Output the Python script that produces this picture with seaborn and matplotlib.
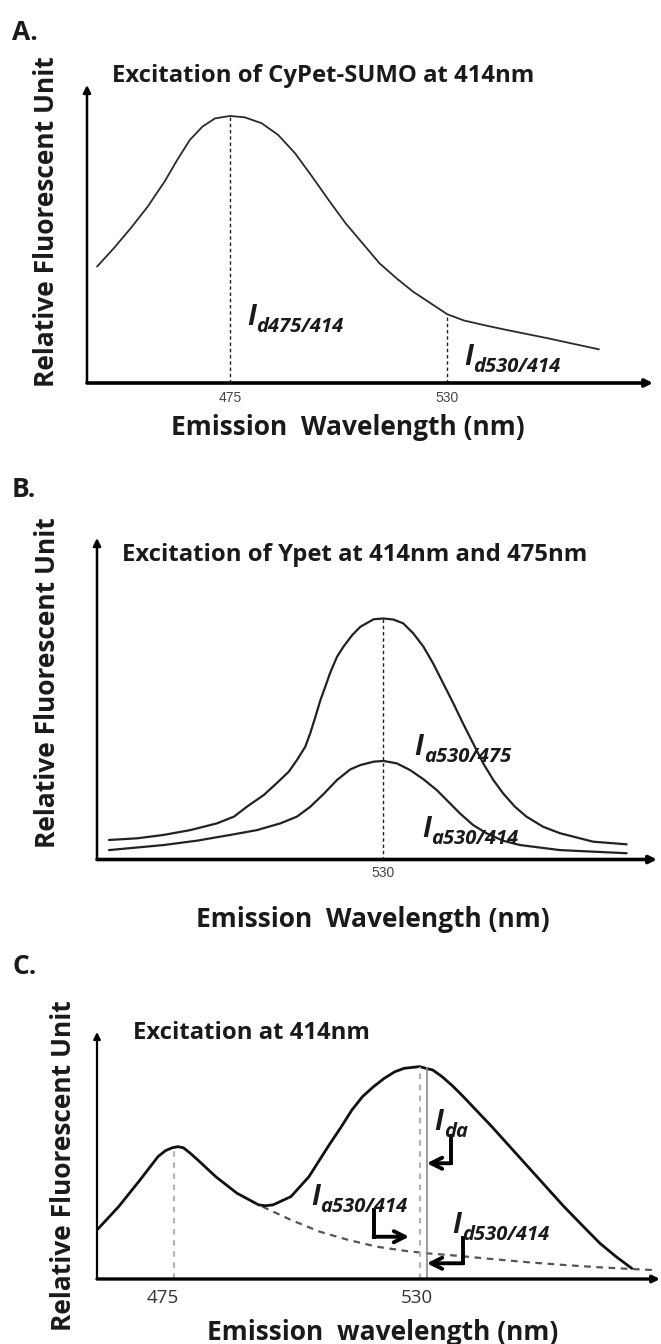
import numpy as np
import matplotlib
matplotlib.use("Agg")
import matplotlib.pyplot as plt
import seaborn as sns

# ---------------- data ----------------
# Panel A: CyPet-SUMO emission, excitation 414 nm
a_nm = [441.3, 445.5, 449.8, 454.1, 458.4, 461.6, 464.8, 468.0, 471.2, 475.0,
        478.7, 483.0, 487.2, 491.5, 495.8, 500.0, 504.3, 508.6, 512.9, 517.2,
        521.4, 525.7, 530.0, 534.3, 539.6, 545.0, 555.7, 568.5]
a_rfu = [0.436, 0.504, 0.579, 0.660, 0.754, 0.835, 0.910, 0.960, 0.991, 1.000,
         0.995, 0.973, 0.929, 0.860, 0.773, 0.685, 0.598, 0.523, 0.448, 0.392,
         0.342, 0.300, 0.258, 0.234, 0.216, 0.199, 0.167, 0.126]
a_ticks = [475, 530]

# Panel B: Ypet emission, excitation at 475 nm (upper) and 414 nm (lower)
b_nm_475 = [470.3, 476.5, 482.2, 488.0, 493.8, 497.5, 500.3, 504.0, 506.8, 509.4,
            511.2, 513.0, 514.1, 515.2, 516.3, 517.5, 518.4, 519.9, 521.3, 523.2,
            525.0, 527.9, 530.0, 532.1, 534.3, 536.5, 538.7, 540.8, 543.0, 545.2,
            547.3, 549.5, 551.7, 553.9, 556.0, 558.6, 561.1, 564.7, 568.4, 575.6,
            582.9]
b_rfu_475 = [0.081, 0.088, 0.102, 0.122, 0.150, 0.178, 0.219, 0.268, 0.317, 0.364,
             0.413, 0.468, 0.525, 0.592, 0.662, 0.725, 0.774, 0.841, 0.883, 0.931,
             0.966, 0.997, 1.000, 0.996, 0.980, 0.938, 0.883, 0.814, 0.731, 0.648,
             0.565, 0.482, 0.399, 0.330, 0.275, 0.219, 0.178, 0.136, 0.109, 0.074,
             0.063]
b_nm_414 = [470.3, 482.2, 489.4, 496.7, 502.5, 507.6, 511.2, 514.1, 517.0, 519.9,
            522.8, 525.0, 527.9, 530.0, 532.9, 535.8, 538.7, 541.6, 544.1, 546.6,
            549.5, 552.4, 556.0, 559.7, 568.4, 582.9]
b_rfu_414 = [0.039, 0.060, 0.078, 0.102, 0.122, 0.150, 0.178, 0.219, 0.272, 0.330,
             0.374, 0.392, 0.406, 0.409, 0.399, 0.371, 0.333, 0.288, 0.240, 0.192,
             0.143, 0.109, 0.078, 0.060, 0.039, 0.026]
b_ticks = [530]

# Panel C: FRET sample, excitation 414 nm
c_nm = [460.7, 465.4, 470.0, 473.9, 475.5, 477.0, 478.2, 479.4, 480.9, 482.5,
        486.4, 491.0, 495.7, 497.2, 498.8, 502.7, 506.6, 508.9, 511.2, 513.6,
        515.9, 518.2, 520.6, 522.9, 525.2, 527.2, 530.5, 533.4, 535.4, 537.7,
        540.0, 543.1, 546.2, 550.1, 554.0, 557.9, 561.8, 565.7, 569.6, 573.1,
        576.5]
c_rfu = [0.231, 0.341, 0.466, 0.576, 0.604, 0.618, 0.623, 0.618, 0.592, 0.561,
         0.482, 0.404, 0.349, 0.345, 0.349, 0.388, 0.482, 0.561, 0.639, 0.717,
         0.796, 0.859, 0.906, 0.945, 0.976, 0.992, 1.000, 0.984, 0.953, 0.909,
         0.859, 0.788, 0.717, 0.623, 0.529, 0.435, 0.341, 0.254, 0.168, 0.105,
         0.050]
# donor contribution (dashed)
c_donor_nm = [496.5, 502.7, 508.9, 515.1, 521.3, 527.6, 532.2, 538.4, 546.2,
              554.0, 561.8, 569.6, 576.5, 581.2]
c_donor_rfu = [0.341, 0.278, 0.223, 0.184, 0.152, 0.132, 0.121, 0.110, 0.094,
               0.079, 0.066, 0.055, 0.047, 0.042]
c_ticks = [475, 530]
c_marker_left_nm = 477.3
c_marker_dashed_nm = 530.6
c_marker_solid_nm = 532.1

# ---------------- style ----------------
sns.set_theme(style="white")
plt.rcParams["font.family"] = ["Open Sans", "DejaVu Sans"]

W, H = 661, 1344
fig = plt.figure(figsize=(W / 100, H / 100), dpi=100)
fig.patch.set_facecolor("white")


def px_rect(left, right, top, bottom):
    return [left / W, 1 - bottom / H, (right - left) / W, (bottom - top) / H]


axA = fig.add_axes(px_rect(87, 653, 85, 383))
axB = fig.add_axes(px_rect(97, 657, 538, 859.5))
axC = fig.add_axes(px_rect(97, 660, 1032, 1279))


def frame(ax, xlw, ylw, ms):
    for s in ax.spines.values():
        s.set_visible(False)
    ax.set_facecolor("none")
    ax.grid(False)
    ax.set_yticks([])
    ax.annotate("", xy=(1, 0), xytext=(0, 0), xycoords="axes fraction",
                arrowprops=dict(arrowstyle="-|>", lw=xlw, color="black",
                                mutation_scale=ms, shrinkA=0, shrinkB=0))
    ax.annotate("", xy=(0, 1), xytext=(0, 0), xycoords="axes fraction",
                arrowprops=dict(arrowstyle="-|>", lw=ylw, color="black",
                                mutation_scale=ms, shrinkA=0, shrinkB=0))


label_font = dict(fontsize=19, fontweight="bold", color="#1a1a1a")
title_font = dict(fontsize=17.2, fontweight="bold", color="#1a1a1a")
small_tick = ["Liberation Sans Narrow", "Liberation Sans", "DejaVu Sans"]


def sym(ax, x, y, sub):
    """Italic bold 'I' with a large subscript, as in the reference."""
    ax.text(x, y, "I", fontsize=20, fontweight="bold", fontstyle="italic",
            ha="left", va="baseline", color="#1a1a1a")
    ax.annotate(sub, xy=(x, y), xycoords="data", xytext=(6.5, -5),
                textcoords="offset points", fontsize=14.5, fontweight="bold",
                fontstyle="italic", ha="left", va="baseline", color="#1a1a1a")


# ---------------- Panel A ----------------
sns.lineplot(x=a_nm, y=a_rfu, ax=axA, color="#2a2a2a", lw=1.3,
             estimator=None, sort=False)
axA.set_xlim(438.75, 582.2)
axA.set_ylim(0, 1.116)
frame(axA, 2.6, 1.8, 11)
a_peak = int(np.argmax(a_rfu))
axA.vlines(a_nm[a_peak], 0, a_rfu[a_peak], colors="#222222", lw=1.0,
           linestyles=(0, (2.5, 2)))
axA.vlines(530, 0, np.interp(530, a_nm, a_rfu), colors="#222222", lw=1.0,
           linestyles=(0, (2.5, 2)))
axA.set_xticks(a_ticks)
axA.set_xticklabels([str(t) for t in a_ticks], family=small_tick,
                    fontsize=10, color="#444444")
axA.tick_params(axis="x", length=0, pad=5.5)
axA.set_xlabel("Emission  Wavelength (nm)", va="center", **label_font)
axA.xaxis.set_label_coords(0.461, -0.148)
axA.set_ylabel("Relative Fluorescent Unit", va="center", **label_font)
axA.yaxis.set_label_coords(-0.072, 0.540)
axA.text(0.044, 1.030, "Excitation of CyPet-SUMO at 414nm",
         transform=axA.transAxes, ha="left", va="center", **title_font)
sym(axA, 479.3, 0.217, "d475/414")
sym(axA, 534.3, 0.067, "d530/414")

# ---------------- Panel B ----------------
sns.lineplot(x=b_nm_475, y=b_rfu_475, ax=axB, color="#222222", lw=1.6,
             estimator=None, sort=False)
sns.lineplot(x=b_nm_414, y=b_rfu_414, ax=axB, color="#222222", lw=1.6,
             estimator=None, sort=False)
axB.set_xlim(467.7, 589.5)
axB.set_ylim(0, 1.334)
frame(axB, 2.6, 1.8, 11)
b_peak = int(np.argmax(b_rfu_475))
axB.vlines(b_nm_475[b_peak], 0, b_rfu_475[b_peak], colors="#222222", lw=1.0,
           linestyles=(0, (2.5, 2)))
axB.set_xticks(b_ticks)
axB.set_xticklabels([str(t) for t in b_ticks], family=small_tick,
                    fontsize=10, color="#444444")
axB.tick_params(axis="x", length=0, pad=5)
axB.set_xlabel("Emission  Wavelength (nm)", va="center", **label_font)
axB.xaxis.set_label_coords(0.493, -0.188)
axB.set_ylabel("Relative Fluorescent Unit", va="center", **label_font)
axB.yaxis.set_label_coords(-0.0875, 0.549)
axB.text(0.045, 0.947, "Excitation of Ypet at 414nm and 475nm",
         transform=axB.transAxes, ha="left", va="center", **title_font)
sym(axB, 536.8, 0.434, "a530/475")
sym(axB, 538.5, 0.094, "a530/414")

# ---------------- Panel C ----------------
sns.lineplot(x=c_donor_nm, y=c_donor_rfu, ax=axC, color="#555555", lw=1.6,
             estimator=None, sort=False, linestyle=(0, (3, 2.5)))
sns.lineplot(x=c_nm, y=c_rfu, ax=axC, color="#111111", lw=2.0,
             estimator=None, sort=False)
axC.set_xlim(460.7, 582.6)
axC.set_ylim(0, 1.163)
frame(axC, 2.4, 1.6, 10)
c_peak = int(np.argmax(c_rfu))
axC.vlines(c_marker_left_nm, 0, np.interp(c_marker_left_nm, c_nm, c_rfu),
           colors="#b5b5b5", lw=1.6, linestyles=(0, (2.5, 2.5)))
axC.vlines(c_marker_dashed_nm, 0, c_rfu[c_peak], colors="#b5b5b5", lw=1.6,
           linestyles=(0, (2.5, 2.5)))
axC.vlines(c_marker_solid_nm, 0, c_rfu[c_peak], colors="#8a8a8a", lw=1.2)
axC.set_xticks(c_ticks)
axC.set_xticklabels([str(t) for t in c_ticks], fontsize=13.5, color="#333333")
axC.tick_params(axis="x", length=0, pad=7)
axC.set_xlabel("Emission  wavelength (nm)", va="center", **label_font)
axC.xaxis.set_label_coords(0.507, -0.215)
axC.set_ylabel("Relative Fluorescent Unit", va="center", **label_font)
axC.yaxis.set_label_coords(-0.060, 0.457)
axC.text(0.064, 0.996, "Excitation at 414nm", transform=axC.transAxes,
         ha="left", va="center", **title_font)
sym(axC, 533.8, 0.702, "da")
sym(axC, 507.0, 0.349, "a530/414")
sym(axC, 537.7, 0.215, "d530/414")


def bent_arrow(ax, x_top, y_top, y_corner, x_tip):
    ax.plot([x_top, x_top], [y_top, y_corner], color="black", lw=2.8,
            solid_capstyle="projecting")
    ax.annotate("", xy=(x_tip, y_corner), xytext=(x_top, y_corner),
                xycoords="data",
                arrowprops=dict(arrowstyle="->", lw=2.8, color="black",
                                mutation_scale=20, shrinkA=0, shrinkB=0))


bent_arrow(axC, 537.3, 0.674, 0.545, c_marker_solid_nm)
bent_arrow(axC, 520.6, 0.325, 0.199, 528.3)
bent_arrow(axC, 540.0, 0.192, 0.074, c_marker_solid_nm)

# ---------------- panel letters ----------------
for letter, ypx in [("A.", 32), ("B.", 490), ("C.", 967)]:
    fig.text(12 / W, 1 - ypx / H, letter, fontsize=19, fontweight="bold",
             ha="left", va="center", color="#1a1a1a")

fig.savefig("out.png", dpi=100, facecolor="white")
